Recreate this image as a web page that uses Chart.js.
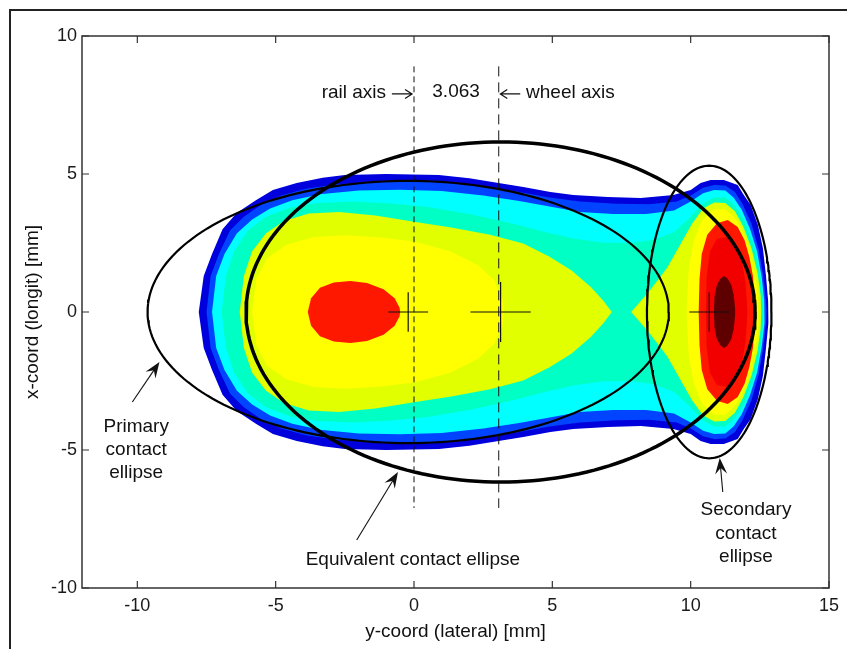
<!DOCTYPE html>
<html lang="en">
<head>
  <meta charset="UTF-8" />
  <title>Contact patch pressure</title>
  <script src="https://cdn.jsdelivr.net/npm/chart.js"></script>
  <style>
    html, body { margin: 0; padding: 0; background: #fff; }
    #miCanvas { display: block; }
  </style>
</head>
<body>
  <canvas id="miCanvas" width="847" height="649"></canvas>

  <script>
    const xTicks = [-10, -5, 0, 5, 10, 15];
    const yTicks = [-10, -5, 0, 5, 10];

    // contour outlines, upper half only: [lateral y, longit x] in mm (patch is symmetric in x)
    const outlineDarkBlue = [[-7.78,0],[-7.6,1.3],[-7.3,2.1],[-6.92,3.0],[-6.41,3.59],[-5.7,4.06],[-5.1,4.42],[-4.24,4.67],[-3.3,4.86],[-2.5,4.96],[-1.0,5.0],[0.9,4.96],[2.0,4.85],[3.0,4.68],[3.95,4.53],[4.93,4.35],[5.76,4.24],[7.0,4.17],[8.2,4.13],[9.38,4.24],[10.0,4.42],[10.36,4.67],[10.72,4.78],[11.2,4.78],[11.7,4.6],[11.92,4.24],[12.17,3.88],[12.43,3.15],[12.61,2.32],[12.72,1.34],[12.8,0.4],[12.82,0]];
    const outlineBlue = [[-7.5,0],[-7.35,1.3],[-7.05,2.1],[-6.65,2.95],[-6.15,3.45],[-5.5,3.9],[-4.8,4.22],[-3.9,4.47],[-2.8,4.63],[-1.2,4.72],[0.5,4.72],[2.0,4.62],[3.5,4.4],[4.9,4.15],[6.0,4.0],[7.3,3.92],[8.5,3.9],[9.5,4.0],[10.05,4.25],[10.45,4.5],[10.85,4.6],[11.25,4.58],[11.6,4.35],[11.88,3.9],[12.2,3.2],[12.45,2.3],[12.62,1.3],[12.72,0.4],[12.74,0]];
    const outlineCyan = [[-7.3,0],[-7.15,1.3],[-6.85,2.1],[-6.4,2.85],[-5.85,3.35],[-5.2,3.75],[-4.4,4.05],[-3.4,4.27],[-2.0,4.4],[-0.5,4.43],[1.0,4.38],[2.5,4.22],[3.8,4.02],[5.0,3.8],[6.0,3.62],[7.2,3.55],[8.4,3.55],[9.4,3.68],[10.0,4.0],[10.45,4.3],[10.85,4.42],[11.25,4.4],[11.55,4.15],[11.85,3.7],[12.15,3.0],[12.4,2.2],[12.57,1.25],[12.66,0.4],[12.68,0]];
    const outlineAqua = [[-6.95,0],[-6.8,1.3],[-6.5,2.2],[-6.0,2.95],[-5.35,3.45],[-4.5,3.78],[-3.5,3.95],[-2.2,4.0],[-0.8,3.93],[0.5,3.8],[2.0,3.55],[3.5,3.22],[4.8,2.88],[5.8,2.65],[6.8,2.52],[7.8,2.5],[8.7,2.62],[9.4,2.9],[9.95,3.4],[10.4,3.9],[10.85,4.15],[11.25,4.15],[11.6,3.85],[11.95,3.3],[12.25,2.5],[12.47,1.6],[12.6,0.7],[12.62,0]];
    const outlineGreenMain = [[-6.3,0],[-6.15,1.3],[-5.85,2.2],[-5.35,2.85],[-4.7,3.3],[-3.8,3.57],[-2.7,3.62],[-1.4,3.5],[0,3.27],[1.4,3.05],[2.75,2.8],[3.95,2.48],[4.9,2.0],[5.7,1.5],[6.4,0.9],[6.85,0.4],[7.15,0]];
    const outlineGreenSec = [[7.85,0],[8.5,0.75],[9.15,1.6],[9.6,2.4],[10.05,3.2],[10.45,3.75],[10.85,3.97],[11.25,3.95],[11.6,3.65],[11.9,3.1],[12.2,2.3],[12.42,1.4],[12.53,0.6],[12.55,0]];
    const outlineYellowMain = [[-5.85,0],[-5.7,1.2],[-5.3,1.95],[-4.6,2.45],[-3.6,2.72],[-2.5,2.78],[-1.2,2.7],[0,2.55],[1.3,2.2],[2.3,1.7],[2.9,1.15],[3.2,0.5],[3.25,0]];
    const outlineYellowSec = [[9.85,0],[9.93,1.6],[10.12,2.6],[10.43,3.35],[10.85,3.72],[11.25,3.72],[11.6,3.4],[11.9,2.85],[12.15,2.1],[12.35,1.2],[12.44,0.5],[12.46,0]];
    const outlineRedMain = [[-3.84,0],[-3.72,0.5],[-3.4,0.88],[-2.9,1.07],[-2.3,1.12],[-1.7,1.05],[-1.1,0.82],[-0.7,0.5],[-0.52,0.15],[-0.5,0]];
    const outlineRedSec = [[10.29,0],[10.32,1.2],[10.4,2.1],[10.6,2.8],[10.95,3.22],[11.34,3.33],[11.7,3.08],[11.95,2.6],[12.12,2.0],[12.25,1.3],[12.31,0.5],[12.32,0]];
    const outlineRed2Sec = [[10.55,0],[10.58,1.3],[10.7,2.2],[10.95,2.65],[11.3,2.72],[11.6,2.45],[11.85,1.85],[11.98,1.1],[12.03,0.4],[12.05,0]];
    const outlineMaroon = [[10.84,0],[10.86,0.55],[10.94,0.95],[11.06,1.2],[11.2,1.3],[11.33,1.22],[11.47,0.98],[11.56,0.6],[11.6,0.2],[11.61,0]];

    // contact ellipses: primary, equivalent, secondary
    const ellipseCenter = [-0.21, 3.13, 10.67];
    const ellipseSemiY = [9.42, 9.2, 2.25];
    const ellipseSemiX = [4.75, 6.16, 5.3];
    const crossHalf = [0.72, 1.09, 0.72];

    const railAxis = 0;
    const wheelAxis = 3.063;
    const axisLineEnds = [8.9, -7.1];

    const fontFamily = "'Liberation Sans', Arial, sans-serif";

    const mirrored = (half) => {
      const lower = half.slice(1, -1).reverse().map(p => [p[0], -p[1]]);
      return half.concat(lower).map(p => ({ x: p[0], y: p[1] }));
    };

    const ellipsePoints = (cx, a, b) => {
      const pts = [];
      for (let i = 0; i <= 200; i++) {
        const t = (i / 200) * 2 * Math.PI;
        pts.push({ x: cx + a * Math.cos(t), y: b * Math.sin(t) });
      }
      return pts;
    };

    const contourFills = [
      [outlineDarkBlue, '#0000dc'],
      [outlineBlue, '#0044ff'],
      [outlineCyan, '#00ffff'],
      [outlineAqua, '#00ffc4'],
      [outlineGreenMain, '#e2ff00'],
      [outlineGreenSec, '#e2ff00'],
      [outlineYellowMain, '#ffff00'],
      [outlineYellowSec, '#ffff00'],
      [outlineRedMain, '#ff1800'],
      [outlineRedSec, '#ff1800'],
      [outlineRed2Sec, '#f20000'],
      [outlineMaroon, '#5e0000']
    ];

    const datasets = [];
    contourFills.forEach((f, i) => {
      datasets.push({
        data: mirrored(f[0]),
        showLine: true,
        fill: 'shape',
        backgroundColor: f[1],
        borderWidth: 0,
        pointRadius: 0,
        tension: 0,
        order: 100 - i
      });
    });

    const ellipseWidths = [2.2, 3.5, 2.2];
    ellipseCenter.forEach((cx, i) => {
      datasets.push({
        data: ellipsePoints(cx, ellipseSemiY[i], ellipseSemiX[i]),
        showLine: true,
        fill: false,
        borderColor: '#000',
        borderWidth: ellipseWidths[i],
        pointRadius: 0,
        order: 10
      });
      datasets.push({
        data: [{ x: cx - crossHalf[i], y: 0 }, { x: cx + crossHalf[i], y: 0 }],
        showLine: true, fill: false, borderColor: '#111', borderWidth: 1.2, pointRadius: 0, order: 5
      });
      datasets.push({
        data: [{ x: cx, y: crossHalf[i] }, { x: cx, y: -crossHalf[i] }],
        showLine: true, fill: false, borderColor: '#111', borderWidth: 1.2, pointRadius: 0, order: 5
      });
    });

    datasets.push({
      data: [{ x: railAxis, y: axisLineEnds[0] }, { x: railAxis, y: axisLineEnds[1] }],
      showLine: true, fill: false, borderColor: '#111', borderWidth: 1, borderDash: [6, 4], pointRadius: 0, order: 4
    });
    datasets.push({
      data: [{ x: wheelAxis, y: axisLineEnds[0] }, { x: wheelAxis, y: axisLineEnds[1] }],
      showLine: true, fill: false, borderColor: '#111', borderWidth: 1, borderDash: [10, 6], pointRadius: 0, order: 4
    });

    const filledArrow = (ctx, x0, y0, x1, y1) => {
      const a = Math.atan2(y1 - y0, x1 - x0);
      const c = Math.cos(a), s = Math.sin(a);
      ctx.lineWidth = 1.1;
      ctx.beginPath(); ctx.moveTo(x0, y0); ctx.lineTo(x1 - 8 * c, y1 - 8 * s); ctx.stroke();
      const L = 16, W = 6, N = 10;
      ctx.beginPath();
      ctx.moveTo(x1, y1);
      ctx.lineTo(x1 - L * c + W * s, y1 - L * s - W * c);
      ctx.lineTo(x1 - N * c, y1 - N * s);
      ctx.lineTo(x1 - L * c - W * s, y1 - L * s + W * c);
      ctx.closePath();
      ctx.fill();
    };

    const openArrow = (ctx, x0, y0, x1, y1) => {
      const a = Math.atan2(y1 - y0, x1 - x0);
      const c = Math.cos(a), s = Math.sin(a);
      ctx.lineWidth = 1.2;
      ctx.beginPath();
      ctx.moveTo(x0, y0); ctx.lineTo(x1, y1);
      ctx.moveTo(x1 - 7 * c + 4.5 * s, y1 - 7 * s - 4.5 * c); ctx.lineTo(x1, y1);
      ctx.lineTo(x1 - 7 * c - 4.5 * s, y1 - 7 * s + 4.5 * c);
      ctx.stroke();
    };

    const decorations = {
      id: 'decorations',
      afterDatasetsDraw(chart) {
        const { ctx, chartArea: area, scales: { x, y } } = chart;
        const px = v => x.getPixelForValue(v);
        const py = v => y.getPixelForValue(v);
        ctx.save();

        // plot box and inward ticks
        ctx.strokeStyle = '#333';
        ctx.lineWidth = 1.5;
        ctx.strokeRect(area.left, area.top, area.right - area.left, area.bottom - area.top);
        ctx.lineWidth = 1.2;
        ctx.beginPath();
        xTicks.forEach(v => {
          const X = px(v);
          ctx.moveTo(X, area.bottom); ctx.lineTo(X, area.bottom - 7);
          ctx.moveTo(X, area.top); ctx.lineTo(X, area.top + 7);
        });
        yTicks.forEach(v => {
          const Y = py(v);
          ctx.moveTo(area.left, Y); ctx.lineTo(area.left + 7, Y);
          ctx.moveTo(area.right, Y); ctx.lineTo(area.right - 7, Y);
        });
        ctx.stroke();

        // annotations
        ctx.fillStyle = '#111';
        ctx.strokeStyle = '#111';
        ctx.font = '19px ' + fontFamily;
        ctx.textBaseline = 'middle';

        ctx.textAlign = 'right';
        ctx.fillText('rail axis', px(-1.01), py(7.93));
        ctx.textAlign = 'center';
        ctx.fillText('3.063', px(1.52), py(7.99));
        ctx.textAlign = 'left';
        ctx.fillText('wheel axis', px(4.05), py(7.93));
        openArrow(ctx, px(-0.8), py(7.9), px(-0.07), py(7.9));
        openArrow(ctx, px(3.84), py(7.9), px(3.12), py(7.9));

        ctx.textAlign = 'center';
        ['Primary', 'contact', 'ellipse'].forEach((t, i) => ctx.fillText(t, px(-10.04), py(-4.17 - 0.83 * i)));
        ['Secondary', 'contact', 'ellipse'].forEach((t, i) => ctx.fillText(t, px(12.0), py(-7.17 - 0.855 * i)));
        ctx.fillText('Equivalent contact ellipse', px(-0.04), py(-8.99));

        filledArrow(ctx, px(-10.18), py(-3.26), px(-9.2), py(-1.81));
        filledArrow(ctx, px(-2.07), py(-8.26), px(-0.58), py(-5.8));
        filledArrow(ctx, px(11.16), py(-6.52), px(11.05), py(-5.29));

        // axis titles
        ctx.fillText('y-coord (lateral) [mm]', (area.left + area.right) / 2, area.bottom + 44);
        ctx.save();
        ctx.translate(area.left - 49, (area.top + area.bottom) / 2);
        ctx.rotate(-Math.PI / 2);
        ctx.fillText('x-coord (longit) [mm]', 0, 0);
        ctx.restore();

        // figure frame
        ctx.strokeStyle = '#222';
        ctx.lineWidth = 2;
        ctx.beginPath();
        ctx.moveTo(10, chart.height);
        ctx.lineTo(10, 10);
        ctx.lineTo(chart.width, 10);
        ctx.stroke();

        ctx.restore();
      }
    };

    const tickFont = { family: fontFamily, size: 18 };

    new Chart(document.getElementById('miCanvas').getContext('2d'), {
      type: 'scatter',
      data: { datasets },
      options: {
        responsive: false,
        animation: false,
        layout: { padding: { top: 36, right: 18, left: 0, bottom: 0 } },
        plugins: { legend: { display: false }, tooltip: { enabled: false } },
        scales: {
          x: {
            type: 'linear', min: -12, max: 15,
            afterBuildTicks: s => { s.ticks = xTicks.map(v => ({ value: v })); },
            afterFit: s => { s.height = 61; },
            grid: { display: false, drawTicks: false },
            border: { display: false },
            ticks: { font: tickFont, color: '#1a1a1a', padding: 7, maxRotation: 0, autoSkip: false }
          },
          y: {
            type: 'linear', min: -10, max: 10,
            afterBuildTicks: s => { s.ticks = yTicks.map(v => ({ value: v })); },
            afterFit: s => { s.width = 82; },
            grid: { display: false, drawTicks: false },
            border: { display: false },
            ticks: { font: tickFont, color: '#1a1a1a', padding: 5, autoSkip: false }
          }
        }
      },
      plugins: [decorations]
    });
  </script>
</body>
</html>
